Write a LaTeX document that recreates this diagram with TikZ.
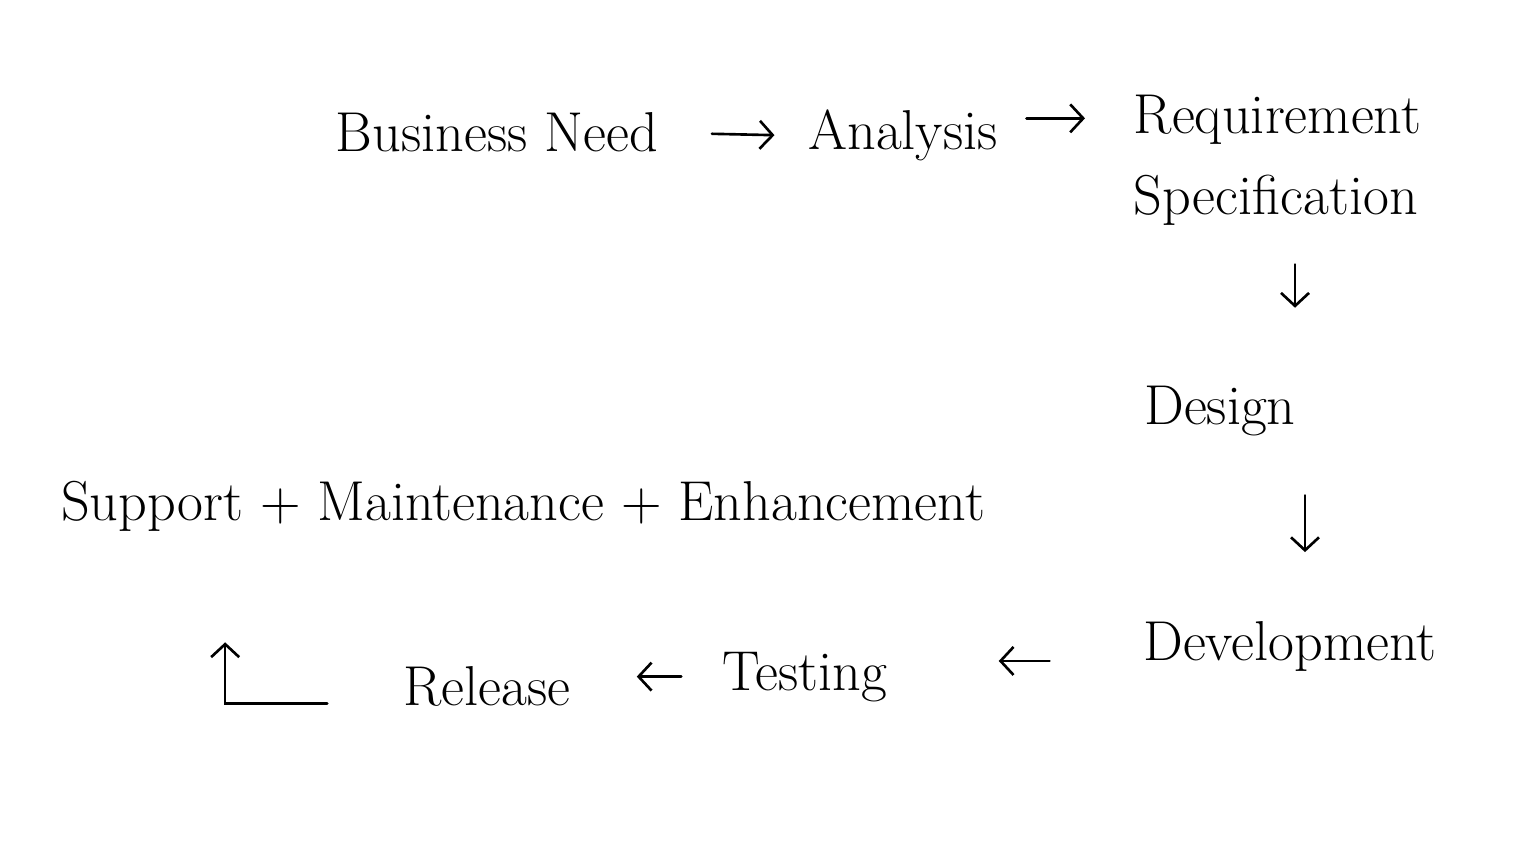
\documentclass[tikz,border=0pt]{standalone}
\usetikzlibrary{arrows.meta}
\begin{document}
\begin{tikzpicture}[>={Straight Barb[length=2.6mm,width=5.6mm]},
  step label/.style={font=\fontsize{32}{46}\selectfont, inner sep=2pt, anchor=base},
  flow/.style={->, line width=1.5pt, line cap=round}]
  \useasboundingbox[fill=white] (0,0) rectangle (30.62,17.28);

  % top row
  \node[step label] (need) at (9.94, 14.24) {Business Need};
  \node[step label] (analysis) at (18.06, 14.28) {Analysis};
  \node[step label, anchor=north west, align=left] (req) at (22.6, 15.45) {Requirement\\Specification};

  \draw[flow, shorten <=1.0cm, shorten >=0.6cm] (need.east) -- (analysis.west);
  \draw[flow, shorten <=0.5cm, shorten >=0.9cm] ([yshift=0.35cm]analysis.east) -- ([yshift=0.35cm]analysis.east -| req.west);

  % right column
  \node[step label] (design) at (24.4, 8.78) {Design};
  \node[step label] (dev) at (25.8, 4.08) {Development};

  \draw[flow, shorten <=0.7cm, shorten >=1.5cm] ([xshift=0.35cm]req.south) -- ([xshift=0.35cm]req.south |- design.north);
  \draw[flow, shorten <=1.1cm, shorten >=1.3cm] ([xshift=1.7cm]design.south) -- ([xshift=1.7cm]design.south |- dev.north);

  % bottom row
  \node[step label] (testing) at (16.1, 3.48) {Testing};
  \node[step label] (release) at (9.74, 3.18) {Release};
  \node[step label] (support) at (10.46, 6.88) {Support + Maintenance + Enhancement};

  \draw[flow, shorten <=1.8cm, shorten >=2.15cm] ([yshift=-0.3cm]dev.west) -- ([yshift=-0.3cm]dev.west -| testing.east);
  \draw[flow, shorten <=0.75cm, shorten >=1.25cm] (testing.west) -- (testing.west -| release.east);
  \draw[flow] ([xshift=-1.45cm,yshift=-0.35cm]release.west) -| ([xshift=3.36cm,yshift=-2.15cm]support.south west);
\end{tikzpicture}
\end{document}
